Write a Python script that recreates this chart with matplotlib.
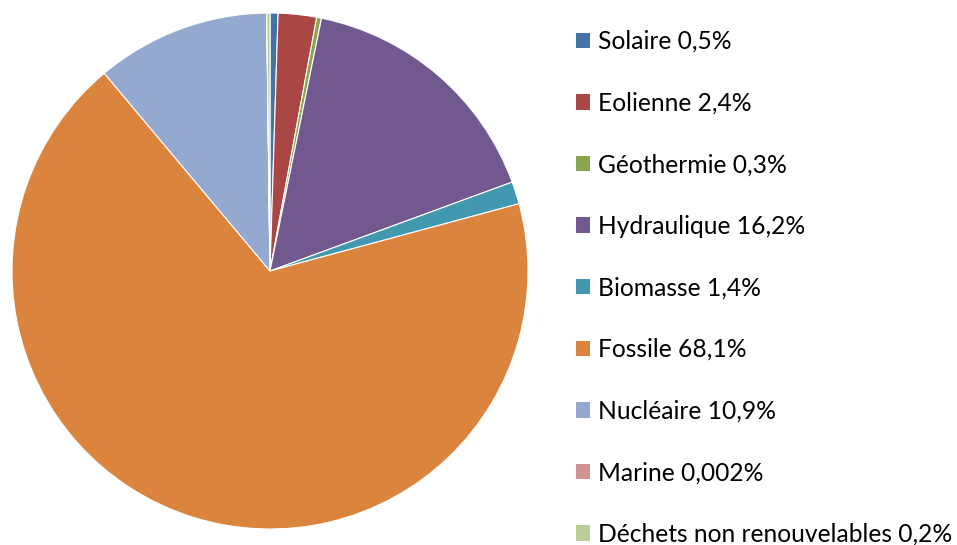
import matplotlib.pyplot as plt
from matplotlib.patches import Patch

labels = ["Solaire", "Eolienne", "Géothermie", "Hydraulique", "Biomasse",
          "Fossile", "Nucléaire", "Marine", "Déchets non renouvelables"]
values = [0.5, 2.4, 0.3, 16.2, 1.4, 68.1, 10.9, 0.002, 0.2]
value_labels = ["0,5%", "2,4%", "0,3%", "16,2%", "1,4%", "68,1%", "10,9%", "0,002%", "0,2%"]
colors = ["#4572A7", "#AA4643", "#89A54E", "#71588F", "#4198AF",
          "#DB843D", "#93A9CF", "#D19392", "#B9CD96"]

plt.rcParams["font.family"] = ["Lato", "DejaVu Sans"]

fig = plt.figure(figsize=(9.57, 5.45), dpi=100)
W, H = 957, 545
cx, cy, r = 270, 271, 258
ax = fig.add_axes([(cx - r) / W, (H - cy - r) / H, 2 * r / W, 2 * r / H])

wedges, _ = ax.pie(values, colors=colors, startangle=90, counterclock=False,
                   radius=1, wedgeprops={"edgecolor": "white", "linewidth": 0.8})
ax.set_xlim(-1, 1)
ax.set_ylim(-1, 1)
ax.axis("off")

handles = [Patch(facecolor=c, edgecolor="none") for c in colors]
texts = [f"{l} {v}" for l, v in zip(labels, value_labels)]
fig.legend(handles, texts, loc="upper left", bbox_to_anchor=(576 / W, 1 - 30 / H),
           frameon=False, fontsize=17.7, handlelength=0.58, handleheight=0.58,
           handletextpad=0.33, labelspacing=1.57, borderpad=0, borderaxespad=0)

fig.savefig("out.png", dpi=100)
